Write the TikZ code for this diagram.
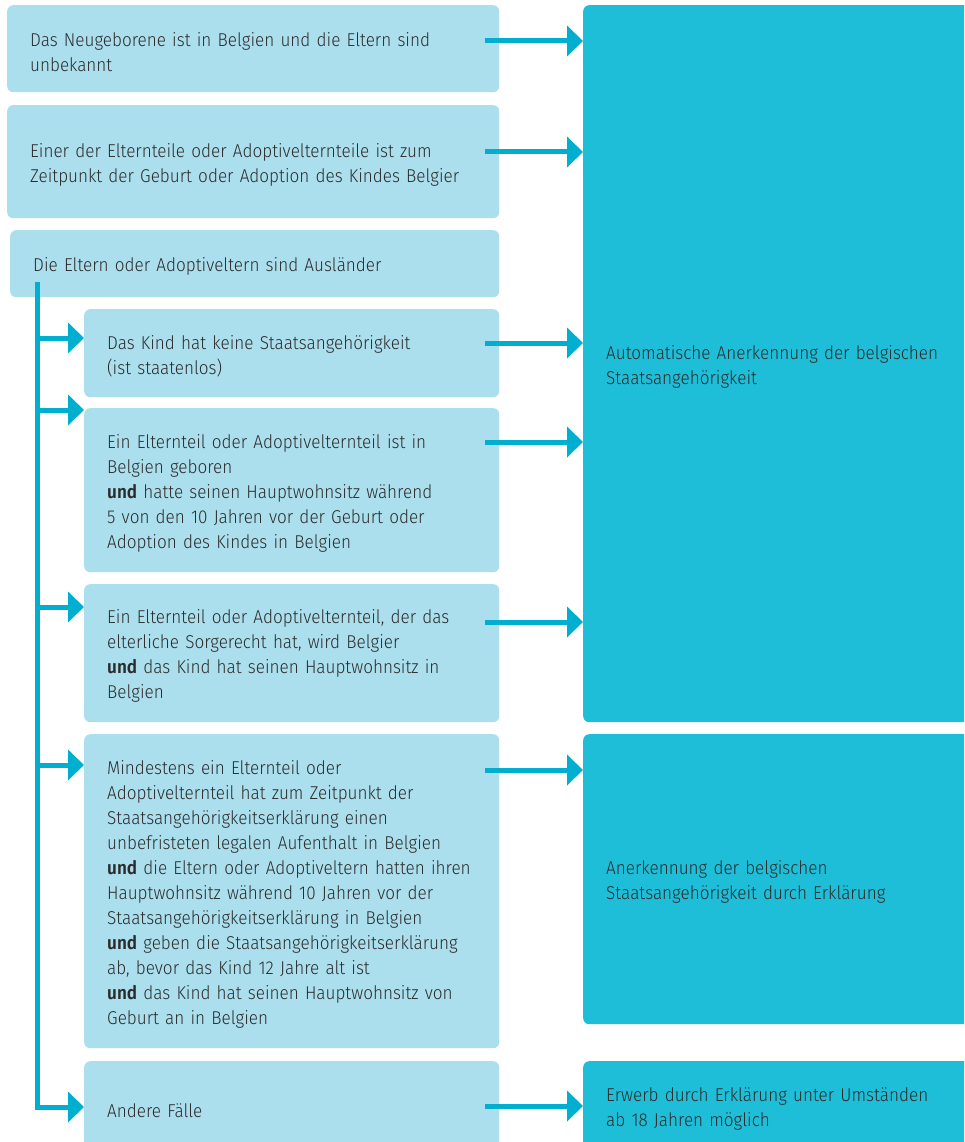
\documentclass[tikz,border=0pt]{standalone}
\usepackage{fontspec}
\setmainfont{Fira Sans Light}[BoldFont={Fira Sans SemiBold}, FakeStretch=0.92]
\usetikzlibrary{arrows.meta,calc}
\definecolor{lightbox}{HTML}{ACDFEE}
\definecolor{darkbox}{HTML}{1EBED9}
\definecolor{arrowc}{HTML}{00AECF}
\definecolor{txt}{HTML}{2B2B2B}
\begin{document}
\begin{tikzpicture}[x=1pt,y=-1pt,
  box/.style={fill=lightbox, rounded corners=6pt, anchor=north west, inner xsep=23pt, inner ysep=0pt,
    align=left, text=txt, font={\fontsize{18.6}{25}\selectfont},
    execute at begin node={\rule{0pt}{20pt}}},
  rbox/.style={box, fill=darkbox},
  arr/.style={draw=arrowc, line width=5pt, -{Triangle[length=16pt,width=30pt]}},
  vline/.style={draw=arrowc, line width=5pt}
]
\clip (0,0) rectangle (964,1142);
\fill[white] (0,0) rectangle (964,1142);

% left column
\node[box, minimum width=492pt, minimum height=87pt, text width=446pt] (b1) at (7,5)
  {Das Neugeborene ist in Belgien und die Eltern sind\\unbekannt};
\node[box, minimum width=492pt, minimum height=113pt, text width=446pt] (b2) at (7,105)
  {Einer der Elternteile oder Adoptivelternteile ist zum\\Zeitpunkt der Geburt oder Adoption des Kindes Belgier};
\node[box, minimum width=489pt, minimum height=67pt, text width=443pt] (b3) at (10,230)
  {Die Eltern oder Adoptiveltern sind Ausländer};

\node[box, minimum width=415pt, minimum height=88pt, text width=369pt] (sA) at (84,309)
  {Das Kind hat keine Staatsangehörigkeit\\(ist staatenlos)};
\node[box, minimum width=415pt, minimum height=164pt, text width=369pt] (sB) at (84,408)
  {Ein Elternteil oder Adoptivelternteil ist in\\Belgien geboren\\\textbf{und} hatte seinen Hauptwohnsitz während\\5 von den 10 Jahren vor der Geburt oder\\Adoption des Kindes in Belgien};
\node[box, minimum width=415pt, minimum height=138pt, text width=369pt] (sC) at (84,584)
  {Ein Elternteil oder Adoptivelternteil, der das\\elterliche Sorgerecht hat, wird Belgier\\\textbf{und} das Kind hat seinen Hauptwohnsitz in\\Belgien};
\node[box, minimum width=415pt, minimum height=314pt, text width=369pt] (sD) at (84,734)
  {Mindestens ein Elternteil oder\\Adoptivelternteil hat zum Zeitpunkt der\\Staatsangehörigkeitserklärung einen\\unbefristeten legalen Aufenthalt in Belgien\\\textbf{und} die Eltern oder Adoptiveltern hatten ihren\\Hauptwohnsitz während 10 Jahren vor der\\Staatsangehörigkeitserklärung in Belgien\\\textbf{und} geben die Staatsangehörigkeitserklärung\\ab, bevor das Kind 12 Jahre alt ist\\\textbf{und} das Kind hat seinen Hauptwohnsitz von\\Geburt an in Belgien};
\node[box, minimum width=415pt, minimum height=92pt, text width=369pt] (sE) at (84,1061)
  {Andere Fälle};

% right column
\node[rbox, minimum width=400pt, minimum height=717pt, text width=354pt] (R1) at (583,5)
  {Automatische Anerkennung der belgischen\\Staatsangehörigkeit};
\node[rbox, minimum width=400pt, minimum height=290pt, text width=354pt] (R2) at (583,734)
  {Anerkennung der belgischen\\Staatsangehörigkeit durch Erklärung};
\node[rbox, minimum width=400pt, minimum height=90pt, text width=354pt] (R3) at (583,1061)
  {Erwerb durch Erklärung unter Umständen\\ab 18 Jahren möglich};

% arrows to the right
\coordinate (s1) at ($(b1.north east)+(-14,36)$);
\coordinate (s2) at ($(b2.north east)+(-14,47)$);
\coordinate (sa) at ($(sA.north east)+(-14,34)$);
\coordinate (sb) at ($(sB.north east)+(-14,34)$);
\coordinate (sc) at ($(sC.north east)+(-14,38)$);
\coordinate (sd) at ($(sD.north east)+(-14,36)$);
\coordinate (se) at ($(sE.north east)+(-14,45)$);
\draw[arr] (s1) -- (s1 -| R1.west);
\draw[arr] (s2) -- (s2 -| R1.west);
\draw[arr] (sa) -- (sa -| R1.west);
\draw[arr] (sb) -- (sb -| R1.west);
\draw[arr] (sc) -- (sc -| R1.west);
\draw[arr] (sd) -- (sd -| R2.west);
\draw[arr] (se) -- (se -| R3.west);

% branching tree
\coordinate (vtop) at ($(b3.south west)+(27.5,-13)$);
\coordinate (va) at ($(sA.north west)+(0,29)$);
\coordinate (vb) at ($(sB.north west)+(0,2)$);
\coordinate (vc) at ($(sC.north west)+(0,23)$);
\coordinate (vd) at ($(sD.north west)+(0,31)$);
\coordinate (ve) at ($(sE.north west)+(0,46)$);
\draw[vline, line cap=rect] (vtop) -- (vtop |- ve);
\draw[arr] (vtop |- ve) -- (ve);
\draw[arr] (vtop |- va) -- (va);
\draw[arr] (vtop |- vb) -- (vb);
\draw[arr] (vtop |- vc) -- (vc);
\draw[arr] (vtop |- vd) -- (vd);
\end{tikzpicture}
\end{document}
